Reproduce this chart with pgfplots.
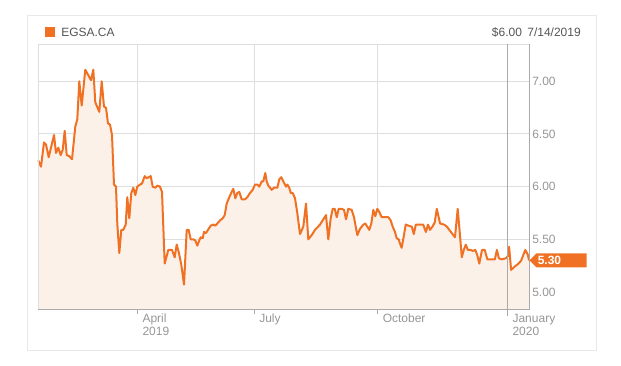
\documentclass[border=0pt]{standalone}
\usepackage{fontspec}
\setmainfont{Liberation Sans}
\usepackage{pgfplots}
\usepackage{pgfplotstable}
\pgfplotsset{compat=1.18}
\definecolor{egsa}{RGB}{240,113,35}
\definecolor{egsafill}{RGB}{252,241,232}
\definecolor{gridgray}{RGB}{222,222,222}
\definecolor{axisgray}{RGB}{170,170,170}
\definecolor{cardgray}{RGB}{232,232,232}
\definecolor{ticktext}{RGB}{150,150,150}
\definecolor{legtext}{RGB}{85,85,85}
\pgfplotstableread{
x y
38.3 6.25
41.0 6.19
44.0 6.42
46.0 6.40
48.7 6.28
54.0 6.49
56.0 6.32
58.3 6.37
60.7 6.30
62.7 6.35
64.7 6.53
66.7 6.30
69.3 6.29
72.0 6.26
75.3 6.57
77.3 6.64
79.3 7.00
81.7 6.77
85.3 7.11
91.0 7.01
93.3 7.11
95.3 6.80
99.3 6.71
101.7 7.00
104.0 6.76
106.0 6.75
108.0 6.60
110.0 6.59
112.0 6.49
114.0 6.02
116.0 6.00
117.3 5.65
119.3 5.37
121.3 5.59
123.3 5.59
125.7 5.64
127.3 5.90
129.3 5.70
131.3 5.94
133.3 5.99
135.3 5.92
137.3 6.00
140.0 6.02
142.0 6.03
144.7 6.10
146.7 6.08
148.7 6.09
150.7 6.10
152.7 6.00
155.3 5.99
157.3 6.01
160.0 6.00
162.0 5.95
164.7 5.27
168.3 5.40
172.0 5.40
174.7 5.33
176.7 5.45
178.7 5.38
181.3 5.26
184.0 5.07
186.7 5.59
188.7 5.59
190.7 5.50
193.3 5.50
195.3 5.49
197.3 5.44
199.3 5.49
200.7 5.52
202.7 5.51
204.0 5.57
206.0 5.56
208.0 5.59
210.7 5.63
213.3 5.64
215.3 5.63
217.3 5.65
220.0 5.68
222.7 5.70
224.7 5.73
226.7 5.84
229.3 5.90
231.7 5.95
233.3 5.98
235.3 5.89
237.3 5.94
239.3 5.95
241.7 5.88
245.0 5.88
247.3 5.90
250.0 5.94
252.7 5.97
255.0 6.02
257.3 6.02
259.3 6.00
261.7 6.05
263.3 6.05
265.3 6.13
266.7 6.05
268.3 6.01
271.7 5.97
274.0 5.99
277.3 5.99
279.3 6.07
281.3 6.09
283.3 6.05
286.0 6.00
287.3 6.02
289.3 5.99
290.7 5.94
292.7 5.94
295.0 5.89
297.3 5.75
300.0 5.55
303.3 5.62
306.0 5.84
308.3 5.50
311.7 5.54
315.0 5.59
320.0 5.64
326.0 5.73
328.3 5.50
330.7 5.70
332.7 5.79
334.7 5.79
336.7 5.71
338.7 5.79
341.7 5.79
344.0 5.78
346.0 5.69
348.3 5.79
351.7 5.78
354.0 5.71
357.3 5.54
360.0 5.60
363.3 5.64
365.3 5.65
367.3 5.62
369.3 5.59
371.3 5.65
373.3 5.78
375.3 5.72
377.3 5.79
379.3 5.76
381.7 5.71
385.0 5.71
388.3 5.71
390.7 5.68
392.7 5.62
395.0 5.57
396.7 5.51
398.7 5.50
400.0 5.46
401.6 5.42
403.6 5.52
405.7 5.64
408.4 5.63
411.8 5.62
413.8 5.55
415.8 5.64
419.9 5.64
423.2 5.64
425.9 5.57
428.0 5.64
430.0 5.59
432.4 5.62
434.7 5.66
436.8 5.79
440.1 5.65
444.2 5.64
446.9 5.62
450.9 5.57
455.0 5.52
457.7 5.79
459.7 5.57
461.8 5.33
463.8 5.40
465.8 5.45
467.8 5.40
470.5 5.40
472.9 5.39
475.3 5.40
477.3 5.35
479.3 5.27
482.0 5.40
484.7 5.40
487.4 5.31
491.5 5.31
494.9 5.31
496.9 5.40
498.9 5.32
501.6 5.31
505.7 5.32
507.7 5.34
509.1 5.43
511.1 5.21
514.5 5.24
518.5 5.27
521.2 5.30
525.3 5.40
528.0 5.35
529.0 5.30
}\pricedata
\begin{document}
\begin{tikzpicture}[x=0.75pt,y=0.75pt]
\path[use as bounding box] (0,0) rectangle (621,365);
\draw[cardgray, line width=0.75pt] (27.5,349) rectangle (596,15);
\fill[egsa] (45,338) rectangle (55,328);
\node[anchor=west,text=legtext,font=\fontsize{9}{11}\selectfont,inner sep=0pt] at (61,333) {EGSA.CA};
\node[anchor=east,text=legtext,font=\fontsize{9}{11}\selectfont,inner sep=0pt] at (581,333) {\$6.00\hspace{4pt}7/14/2019};
\begin{axis}[
  at={(28.5pt,42pt)}, anchor=south west,
  scale only axis, width=368.25pt, height=198.75pt,
  xmin=38, xmax=529, ymin=4.839, ymax=7.354,
  clip=false,
  axis line style={draw=none},
  xtick={137.3,254,377.5,507.3},
  xticklabels={{April\\2019},{July},{October},{January\\2020}},
  ytick={5,5.5,6,6.5,7},
  xtick pos=left, ytick pos=right, yticklabel pos=right,
  tick align=outside, major tick length=3.75pt,
  ytick style={draw=none},
  xtick style={draw=axisgray, line width=0.75pt},
  grid=major,
  major grid style={draw=gridgray, line width=0.75pt},
  /pgf/number format/assume math mode=true,
  tick label style={font=\fontsize{9}{9.75}\selectfont, text=ticktext},
  yticklabel style={anchor=west, inner sep=0pt, xshift=-1.5pt,
    /pgf/number format/.cd, fixed, fixed zerofill, precision=2},
  xticklabel style={align=left, anchor=north west, inner sep=0pt, xshift=3.75pt},
]
\addplot[draw=none, fill=egsafill] table[x=x,y=y] {\pricedata} \closedcycle;
\addplot[egsa, line width=1.5pt, line join=round] table[x=x,y=y] {\pricedata};
\draw[gridgray, line width=0.75pt] (axis cs:38,4.839) -- (axis cs:38,7.354) -- (axis cs:529,7.354);
\draw[axisgray, line width=0.75pt] (axis cs:38,4.839) -- (axis cs:529,4.839) -- (axis cs:529,7.354);
\draw[axisgray, line width=0.75pt] (axis cs:507.3,7.354) -- (axis cs:507.3,4.839) -- ++(0pt,-5.5pt);
\fill[egsa] (axis cs:529.5,5.30) -- ++(5.25pt,5.25pt) -- ++(37.5pt,0pt) -- ++(0pt,-10.5pt) -- ++(-37.5pt,0pt) -- cycle;
\node[anchor=west, text=white, font=\fontsize{9}{9}\selectfont\bfseries, inner sep=0pt] at ([xshift=6pt]axis cs:529.5,5.30) {5.30};
\end{axis}
\end{tikzpicture}
\end{document}
